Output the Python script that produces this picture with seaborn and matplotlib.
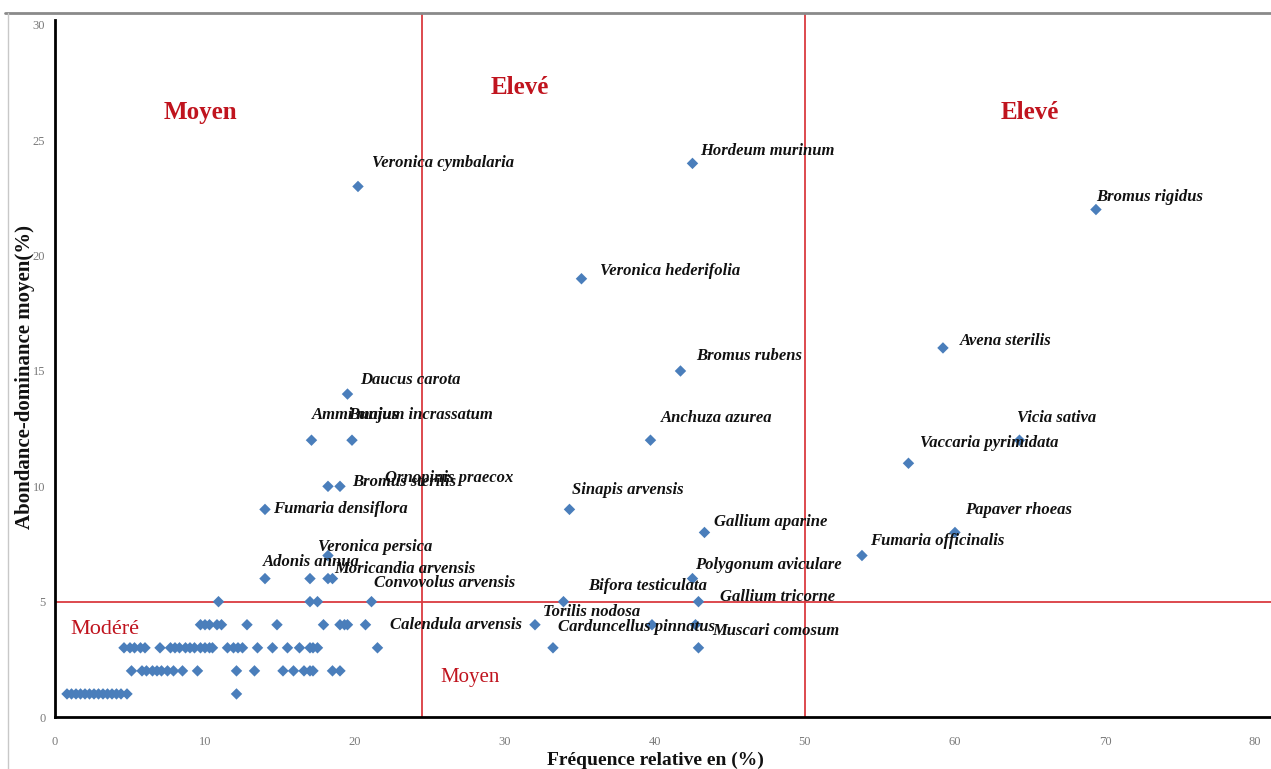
import numpy as np
import pandas as pd
import matplotlib
matplotlib.use("Agg")
import matplotlib.pyplot as plt
from matplotlib.lines import Line2D
import seaborn as sns

# Named species: relative frequency (%) and mean abundance-dominance (%)
species = [
    "Veronica cymbalaria", "Hordeum murinum", "Bromus rigidus", "Veronica hederifolia",
    "Avena sterilis", "Bromus rubens", "Daucus carota", "Ammi majus",
    "Bunium incrassatum", "Anchuza azurea", "Vicia sativa", "Vaccaria pyrimidata",
    "Ornopinis praecox", "Bromus sterilis", "Fumaria densiflora", "Sinapis arvensis",
    "Gallium aparine", "Papaver rhoeas", "Fumaria officinalis", "Veronica persica",
    "Adonis annua", "Moricandia arvensis", "Polygonum aviculare", "Convovolus arvensis",
    "Bifora testiculata", "Gallium tricorne", "Calendula arvensis", "Torilis nodosa",
    "Carduncellus pinnatus", "Muscari comosum",
]
species_freq = [
    20.2, 42.5, 69.4, 35.1,
    59.2, 41.7, 19.5, 17.1,
    19.8, 39.7, 64.3, 56.9,
    18.2, 19.0, 14.0, 34.3,
    43.3, 60.0, 53.8, 18.2,
    14.0, 18.5, 42.5, 21.1,
    33.9, 42.9, 21.5, 32.0,
    33.2, 42.9,
]
species_abund = [
    23, 24, 22, 19,
    16, 15, 14, 12,
    12, 12, 12, 11,
    10, 10, 9, 9,
    8, 8, 7, 7,
    6, 6, 6, 5,
    5, 5, 3, 4,
    3, 3,
]

# Remaining (unlabelled) species, grouped by abundance class
other_freq_1 = [0.8, 1.1, 1.4, 1.7, 2.0, 2.3, 2.6, 2.9, 3.2, 3.5, 3.8, 4.1, 4.4, 4.8, 12.1]
other_freq_2 = [5.1, 5.8, 6.1, 6.5, 6.8, 7.1, 7.5, 7.9, 8.5, 9.5, 12.1, 13.3, 15.2,
                15.9, 16.6, 17.0, 17.2, 18.5, 19.0]
other_freq_3 = [4.6, 5.0, 5.3, 5.7, 6.0, 7.0, 7.7, 8.0, 8.3, 8.7, 9.0, 9.3, 9.7, 10.0,
                10.3, 10.5, 11.5, 11.9, 12.2, 12.5, 13.5, 14.5, 15.5, 16.3, 17.0, 17.2, 17.5]
other_freq_4 = [9.7, 10.0, 10.3, 10.8, 11.1, 12.8, 14.8, 17.9, 19.0, 19.3, 19.5, 20.7,
                39.8, 42.7]
other_freq_5 = [10.9, 17.0, 17.5]
other_freq_6 = [17.0, 18.2]

x_ticks = [0, 10, 20, 30, 40, 50, 60, 70, 80]
y_ticks = [0, 5, 10, 15, 20, 25, 30]
freq_thresholds = [24.5, 50]
abund_threshold = 5

zone_labels = ["Moyen", "Elevé", "Elevé", "Modéré", "Moyen"]

# Label placement (pixel offsets from each point, ha)
label_offsets = {
    "Veronica cymbalaria": (14, 23, "left"), "Hordeum murinum": (8, 12, "left"),
    "Bromus rigidus": (0, 13, "left"), "Veronica hederifolia": (19, 8, "left"),
    "Avena sterilis": (17, 7, "left"), "Bromus rubens": (16, 15, "left"),
    "Daucus carota": (13, 14, "left"), "Ammi majus": (0, 25, "left"),
    "Bunium incrassatum": (-4, 25, "left"), "Anchuza azurea": (10, 22, "left"),
    "Vicia sativa": (-2, 22, "left"), "Vaccaria pyrimidata": (12, 20, "left"),
    "Ornopinis praecox": (57, 8, "left"), "Bromus sterilis": (12, 4, "left"),
    "Fumaria densiflora": (8, 0, "left"), "Sinapis arvensis": (3, 19, "left"),
    "Gallium aparine": (10, 10, "left"), "Papaver rhoeas": (10, 22, "left"),
    "Fumaria officinalis": (8, 15, "left"), "Veronica persica": (-10, 9, "left"),
    "Adonis annua": (-2, 17, "left"), "Moricandia arvensis": (2, 10, "left"),
    "Polygonum aviculare": (3, 14, "left"), "Convovolus arvensis": (3, 19, "left"),
    "Bifora testiculata": (25, 16, "left"), "Gallium tricorne": (22, 5, "left"),
    "Calendula arvensis": (13, 23, "left"), "Torilis nodosa": (8, 13, "left"),
    "Carduncellus pinnatus": (5, 21, "left"), "Muscari comosum": (14, 17, "left"),
}

# ---- build the table of all points ----
frames = [pd.DataFrame({"freq": species_freq, "abund": species_abund})]
for cls, xs in zip([1, 2, 3, 4, 5, 6],
                   [other_freq_1, other_freq_2, other_freq_3, other_freq_4,
                    other_freq_5, other_freq_6]):
    frames.append(pd.DataFrame({"freq": xs, "abund": [cls] * len(xs)}))
df = pd.concat(frames, ignore_index=True)

sns.set_theme(style="white")
plt.rcParams["font.family"] = ["Liberation Serif", "DejaVu Serif"]

W, H = 1271, 769
fig = plt.figure(figsize=(W / 100, H / 100), dpi=100)
fig.patch.set_facecolor("white")
ax = fig.add_axes([55 / W, 52 / H, 1216 / W, 704 / H])

red_line = "#DA3A40"
red_text = "#C0141E"

for fx in freq_thresholds:
    ax.axvline(fx, color=red_line, lw=1.3, zorder=1)
ax.axhline(abund_threshold, color=red_line, lw=1.3, zorder=1)

sns.scatterplot(data=df, x="freq", y="abund", marker="D", s=34, color="#4A7EBB",
                edgecolor="none", linewidth=0, ax=ax, legend=False, zorder=3)

for name, fx, fy in zip(species, species_freq, species_abund):
    dx, dy, ha = label_offsets[name]
    ax.annotate(name, (fx, fy), xytext=(dx, dy), textcoords="offset pixels",
                ha=ha, va="center", fontsize=12, fontstyle="italic",
                fontweight="bold", color="#111111", zorder=4)

# Zone names
zone_pos = [(9.7, 26.2), (31.0, 27.3), (65.0, 26.2), (3.3, 3.8), (27.7, 1.7)]
zone_bold = [True, True, True, False, False]
zone_size = [18, 18, 18, 16, 15]
for txt, (zx, zy), b, fs in zip(zone_labels, zone_pos, zone_bold, zone_size):
    ax.text(zx, zy, txt, ha="center", va="center", color=red_text, fontsize=fs,
            fontweight="bold" if b else "normal", zorder=4)

ax.set_xlim(0, 81.07)
ax.set_ylim(0, 30.52)
ax.set_xticks(x_ticks)
ax.set_yticks(y_ticks)
ax.tick_params(axis="both", which="major", direction="out", length=3, width=1,
               color="#a8a8a8", labelcolor="#7a7a7a", labelsize=9)
ax.tick_params(axis="x", pad=11)
ax.tick_params(axis="y", pad=4)

for side in ["top", "right"]:
    ax.spines[side].set_visible(False)
ax.spines["left"].set_color("black")
ax.spines["left"].set_linewidth(2)
ax.spines["left"].set_bounds(0, 30.2)
ax.spines["bottom"].set_color("black")
ax.spines["bottom"].set_linewidth(2)

ax.set_xlabel("Fréquence relative en (%)", fontsize=14, fontweight="bold", color="#111111")
ax.xaxis.set_label_coords((655 - 55) / 1216, (717 - 752) / 704)
ax.set_ylabel("Abondance-dominance moyen(%)", fontsize=15, fontweight="bold", color="#111111")
ax.yaxis.set_label_coords((35 - 55) / 1216, (717 - 377) / 704)

# Chart-area frame
fig.add_artist(Line2D([5 / W, 1.0], [1 - 13 / H, 1 - 13 / H], color="#8a8a8a", lw=2))
fig.add_artist(Line2D([8 / W, 8 / W], [0, 1 - 13 / H], color="#c8c8c8", lw=1))

fig.savefig("out.png", dpi=100, facecolor="white")
